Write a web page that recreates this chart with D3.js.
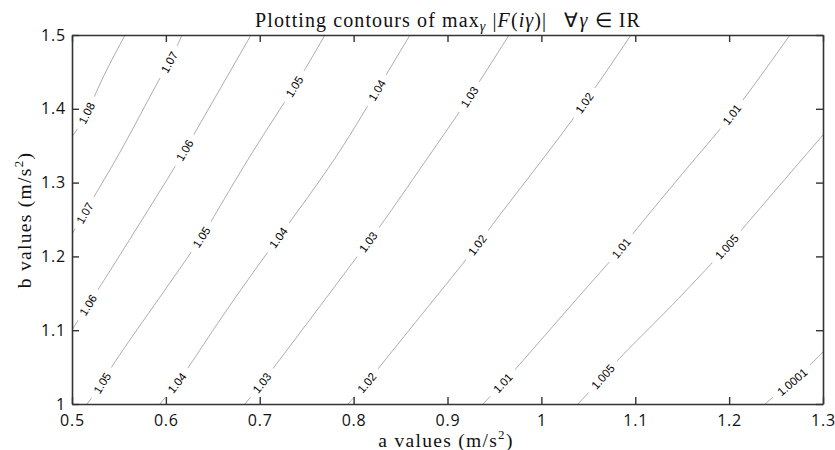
<!DOCTYPE html>
<html><head><meta charset="utf-8">
<script src="https://cdn.jsdelivr.net/npm/d3@7"></script>
<style>body{margin:0;background:#fff} svg{display:block}</style>
</head><body><svg id="c" width="835" height="450"></svg>
<script>
// ---- data ----
const xTicks = [0.5,0.6,0.7,0.8,0.9,1,1.1,1.2,1.3];
const xTickLabels = ["0.5","0.6","0.7","0.8","0.9","1","1.1","1.2","1.3"];
const yTicks = [1,1.1,1.2,1.3,1.4,1.5];
const yTickLabels = ["1","1.1","1.2","1.3","1.4","1.5"];
const levels = ["1.08","1.07","1.06","1.05","1.04","1.03","1.02","1.01","1.005","1.0001"];
// contour points [a, b]
const c108 = [[0.5565,1.5],[0.5298,1.4363],[0.5170,1.3943],[0.5,1.3618]];
const c107 = [[0.6172,1.5],[0.6044,1.4634],[0.5937,1.4431],[0.5533,1.3442],[0.5224,1.2791],[0.5138,1.2588],[0.5,1.2304]];
const c106 = [[0.6907,1.5],[0.6204,1.3442],[0.6065,1.3144],[0.5298,1.1585],[0.5170,1.1341],[0.5,1.1003]];
const c105 = [[0.7695,1.5],[0.7375,1.4295],[0.6928,1.3442],[0.6491,1.2493],[0.6385,1.2263],[0.5863,1.1314],[0.5405,1.0488],[0.5330,1.0285],[0.5160,1.0]];
const c104 = [[0.8601,1.5],[0.8249,1.4255],[0.7823,1.3333],[0.7194,1.2249],[0.6662,1.1314],[0.6225,1.0461],[0.6119,1.0285],[0.5937,1.0]];
const c103 = [[0.9655,1.5],[0.9240,1.4160],[0.8846,1.3442],[0.8281,1.2398],[0.8153,1.2195],[0.7748,1.1504],[0.7130,1.0461],[0.7024,1.0285],[0.6843,1.0]];
const c102 = [[1.0955,1.5],[1.0465,1.4079],[1.0092,1.3442],[0.9431,1.2358],[0.9325,1.2154],[0.8782,1.1301],[0.8249,1.0461],[0.8142,1.0285],[0.7940,1.0]];
const c101 = [[1.2648,1.5],[1.2041,1.3916],[1.1711,1.3442],[1.0976,1.2317],[1.0859,1.2114],[1.0411,1.1477],[0.9719,1.0461],[0.9591,1.0285],[0.9378,1.0]];
const c1005 = [[1.3,1.3645],[1.2862,1.3442],[1.2222,1.2493],[1.1977,1.2127],[1.1818,1.1911],[1.1349,1.1274],[1.0806,1.0596],[1.0656,1.0366],[1.0390,1.0]];
const c10001 = [[1.3,1.0705],[1.2840,1.0501],[1.2680,1.0298],[1.2521,1.0149],[1.2382,1.0]];
// b value where each inline label sits
const labelB108 = [1.394];
const labelB107 = [1.463,1.259];
const labelB106 = [1.344,1.134];
const labelB105 = [1.430,1.226,1.0285];
const labelB104 = [1.425,1.225,1.0285];
const labelB103 = [1.416,1.2195,1.0285];
const labelB102 = [1.408,1.215,1.0285];
const labelB101 = [1.392,1.211,1.0285];
const labelB1005 = [1.213,1.037];
const labelB10001 = [1.030];

const contours = [c108,c107,c106,c105,c104,c103,c102,c101,c1005,c10001];
const labelBs = [labelB108,labelB107,labelB106,labelB105,labelB104,labelB103,labelB102,labelB101,labelB1005,labelB10001];

// ---- layout ----
const W = 835, H = 450;
const m = {l:72, r:12, t:35, b:46};
const svg = d3.select("#c");
const x = d3.scaleLinear().domain([0.5,1.3]).range([m.l, W-m.r]);
const y = d3.scaleLinear().domain([1,1.5]).range([H-m.b, m.t]);

svg.append("defs").append("clipPath").attr("id","clip")
  .append("rect").attr("x",m.l).attr("y",m.t).attr("width",W-m.l-m.r).attr("height",H-m.t-m.b);

const gLines = svg.append("g").attr("clip-path","url(#clip)");
const gLabels = svg.append("g");
const line = d3.line().x(d=>x(d[0])).y(d=>y(d[1])).curve(d3.curveBasis);

contours.forEach((pts,i)=>{
  const p = gLines.append("path").attr("d",line(pts))
    .attr("fill","none").attr("stroke","#8a8a8a").attr("stroke-width",0.7);
  const node = p.node();
  const L = node.getTotalLength();
  labelBs[i].forEach(bv=>{
    const ty = y(bv);
    let best=0, bd=1e9;
    for(let l=0;l<=L;l+=0.5){
      const q=node.getPointAtLength(l);
      const d=Math.abs(q.y-ty);
      if(d<bd){bd=d;best=l;}
    }
    const q=node.getPointAtLength(best);
    const q1=node.getPointAtLength(Math.max(0,best-3));
    const q2=node.getPointAtLength(Math.min(L,best+3));
    let ang=Math.atan2(q2.y-q1.y,q2.x-q1.x)*180/Math.PI;
    if(ang>90) ang-=180; if(ang<-90) ang+=180;
    const g=gLabels.append("g").attr("transform",`translate(${q.x},${q.y}) rotate(${ang})`);
    const r=g.append("rect").attr("fill","#fff");
    const t=g.append("text").text(levels[i])
      .attr("text-anchor","middle").attr("dy","0.36em")
      .style("font-family","'Liberation Sans', Arial, sans-serif").style("font-size","11.5px").attr("fill","#000");
    const tw=t.node().getComputedTextLength();
    r.attr("x",-tw/2-7).attr("y",-6).attr("width",tw+14).attr("height",12);
  });
});

// ---- axes ----
const tickFont = "'Open Sans', sans-serif";
const axB = d3.axisBottom(x).tickValues(xTicks).tickFormat((d,i)=>xTickLabels[i]).tickSizeInner(-7).tickSizeOuter(0).tickPadding(11);
const axT = d3.axisTop(x).tickValues(xTicks).tickFormat("").tickSizeInner(-7).tickSizeOuter(0);
const axL = d3.axisLeft(y).tickValues(yTicks).tickFormat((d,i)=>yTickLabels[i]).tickSizeInner(-7).tickSizeOuter(0).tickPadding(6);
const axR = d3.axisRight(y).tickValues(yTicks).tickFormat("").tickSizeInner(-7).tickSizeOuter(0);

function style(g){
  g.select(".domain").attr("stroke","#333").attr("stroke-width",1.6);
  g.selectAll(".tick line").attr("stroke","#333").attr("stroke-width",1.4);
  g.selectAll(".tick text").attr("fill","#111").style("font-family",tickFont).style("font-size","16px").style("letter-spacing","0.8px");
}
svg.append("g").attr("transform",`translate(0,${H-m.b})`).call(axB).call(style);
svg.append("g").attr("transform",`translate(0,${m.t})`).call(axT).call(style);
svg.append("g").attr("transform",`translate(${m.l},0)`).call(axL).call(style);
svg.append("g").attr("transform",`translate(${W-m.r},0)`).call(axR).call(style);

// ---- titles ----
const serif = "'Liberation Serif', 'Times New Roman', serif";
const title = svg.append("text").attr("x",448).attr("y",26.5).attr("text-anchor","middle")
  .style("font-family",serif).style("font-size","20px").style("letter-spacing","1.1px").attr("fill","#111");
title.append("tspan").text("Plotting contours of max");
title.append("tspan").text("γ").style("font-style","italic").style("font-size","14px").attr("dy",4);
title.append("tspan").text(" |").attr("dy",-4);
title.append("tspan").text("F").style("font-style","italic");
title.append("tspan").text("(");
title.append("tspan").text("iγ").style("font-style","italic");
title.append("tspan").text(")|\u2002 ∀");
title.append("tspan").text("γ").style("font-style","italic");
title.append("tspan").text(" ∈ IR");

const xl = svg.append("text").attr("x",446).attr("y",446.5).attr("text-anchor","middle")
  .style("font-family",serif).style("font-size","19.5px").style("letter-spacing","1.3px").attr("fill","#111");
xl.append("tspan").text("a values (m/s");
xl.append("tspan").text("2").style("font-size","13px").attr("dy",-8);
xl.append("tspan").text(")").attr("dy",8);

const yl = svg.append("text").attr("transform","translate(31,220) rotate(-90)").attr("text-anchor","middle")
  .style("font-family",serif).style("font-size","19.5px").style("letter-spacing","1.3px").attr("fill","#111");
yl.append("tspan").text("b values (m/s");
yl.append("tspan").text("2").style("font-size","13px").attr("dy",-8);
yl.append("tspan").text(")").attr("dy",8);
</script></body></html>
